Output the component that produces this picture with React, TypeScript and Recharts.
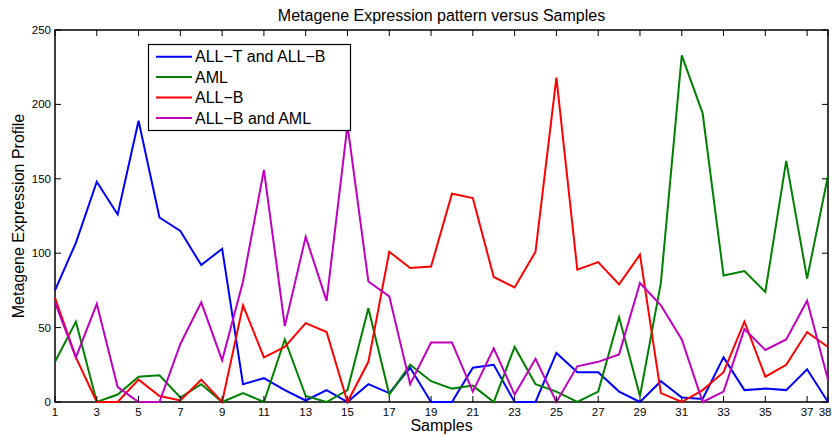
import React from 'react';
import { LineChart, Line, XAxis, YAxis, ReferenceArea } from 'recharts';

const samples = [1, 2, 3, 4, 5, 6, 7, 8, 9, 10, 11, 12, 13, 14, 15, 16, 17, 18, 19, 20, 21, 22, 23, 24, 25, 26, 27, 28, 29, 30, 31, 32, 33, 34, 35, 36, 37, 38];
const xTicks = [1, 3, 5, 7, 9, 11, 13, 15, 17, 19, 21, 23, 25, 27, 29, 31, 33, 35, 37, 38];
const yTicks = [0, 50, 100, 150, 200, 250];

const allTandAllB = [75, 107, 148, 126, 189, 124, 115, 92, 103, 12, 16, 8, 1, 8, 0, 12, 6, 23, 0, 0, 23, 25, 0, 0, 33, 20, 20, 7, 0, 14, 3, 2, 30, 8, 9, 8, 22, 0];
const aml = [27, 54, 0, 5, 17, 18, 3, 12, 0, 6, 0, 42, 4, 0, 8, 63, 5, 25, 14, 9, 11, 0, 37, 12, 7, 0, 7, 57, 4, 80, 233, 194, 85, 88, 74, 162, 83, 152];
const allB = [70, 30, 0, 0, 15, 4, 1, 15, 0, 65, 30, 37, 53, 47, 0, 27, 101, 90, 91, 140, 137, 84, 77, 101, 218, 89, 94, 79, 99, 6, 0, 8, 20, 54, 17, 25, 47, 37];
const allBandAml = [67, 30, 66, 10, 0, 0, 39, 67, 28, 81, 156, 51, 111, 68, 186, 81, 71, 12, 40, 40, 7, 36, 5, 29, 0, 24, 27, 32, 80, 65, 42, 0, 7, 49, 35, 42, 68, 15];

const seriesNames = ['ALL\u2212T and ALL\u2212B', 'AML', 'ALL\u2212B', 'ALL\u2212B and AML'];
const seriesValues = [allTandAllB, aml, allB, allBandAml];
const seriesColors = ['#0000ff', '#008000', '#ff0000', '#bf00bf'];

const data = samples.map((s, i) => {
  const row: any = { sample: s };
  seriesValues.forEach((vals, k) => {
    row['s' + k] = vals[i];
  });
  return row;
});

const W = 832;
const H = 435;
const PLOT = { left: 55, right: 828, top: 30, bottom: 402 };
const FONT = '"Liberation Sans", Arial, Helvetica, sans-serif';
const TICK_LEN = 6;

function XTick(props: any) {
  const { x, payload } = props;
  const isLast = payload.value === xTicks[xTicks.length - 1];
  return (
    <g>
      <line x1={x} x2={x} y1={PLOT.bottom} y2={PLOT.bottom - TICK_LEN} stroke="#000" strokeWidth={1} />
      <line x1={x} x2={x} y1={PLOT.top} y2={PLOT.top + TICK_LEN} stroke="#000" strokeWidth={1} />
      <text
        x={isLast ? W - 0.5 : x}
        y={416}
        textAnchor={isLast ? 'end' : 'middle'}
        fontFamily={FONT}
        fontSize={11.5}
        fill="#000"
      >
        {payload.value}
      </text>
    </g>
  );
}

function YTick(props: any) {
  const { y, payload } = props;
  return (
    <g>
      <line x1={PLOT.left} x2={PLOT.left + TICK_LEN} y1={y} y2={y} stroke="#000" strokeWidth={1} />
      <line x1={PLOT.right} x2={PLOT.right - TICK_LEN} y1={y} y2={y} stroke="#000" strokeWidth={1} />
      <text x={51} y={y + 4} textAnchor="end" fontFamily={FONT} fontSize={11.5} fill="#000">
        {payload.value}
      </text>
    </g>
  );
}

export default function App() {
  const legendTop = 44.5;
  const legendRow = 20.4;
  return (
    <div style={{ position: 'relative', width: W, height: H, background: '#fff' }}>
      <style>{'body{margin:0;background:#fff;}'}</style>
      <LineChart width={W} height={H} data={data} margin={{ top: 30, right: 4, left: 0, bottom: 0 }}>
        <XAxis
          dataKey="sample"
          type="number"
          domain={[1, 38]}
          ticks={xTicks}
          interval={0}
          tickSize={0}
          tickMargin={0}
          axisLine={false}
          tick={<XTick />}
          height={33}
        />
        <YAxis
          type="number"
          domain={[0, 250]}
          ticks={yTicks}
          interval={0}
          tickSize={0}
          tickMargin={0}
          axisLine={false}
          tick={<YTick />}
          width={55}
        />
        <ReferenceArea x1={1} x2={38} y1={0} y2={250} fill="none" fillOpacity={0} stroke="#000" strokeWidth={1.5} strokeOpacity={1} />
        {seriesNames.map((name, k) => (
          <Line
            key={name}
            name={name}
            dataKey={'s' + k}
            type="linear"
            stroke={seriesColors[k]}
            strokeWidth={2}
            dot={false}
            activeDot={false}
            isAnimationActive={false}
          />
        ))}
      </LineChart>
      <svg width={W} height={H} style={{ position: 'absolute', left: 0, top: 0, pointerEvents: 'none' }}>
        <text x={(PLOT.left + PLOT.right) / 2} y={20.5} textAnchor="middle" fontFamily={FONT} fontSize={16} fill="#000">
          Metagene Expression pattern versus Samples
        </text>
        <text x={(PLOT.left + PLOT.right) / 2} y={431} textAnchor="middle" fontFamily={FONT} fontSize={16} fill="#000">
          Samples
        </text>
        <text
          x={0}
          y={0}
          transform={`translate(23.5, ${(PLOT.top + PLOT.bottom) / 2}) rotate(-90)`}
          textAnchor="middle"
          fontFamily={FONT}
          fontSize={16}
          fill="#000"
        >
          Metagene Expression Profile
        </text>
        <rect x={148.5} y={legendTop} width={202} height={86} fill="#fff" stroke="#000" strokeWidth={1.2} />
        {seriesNames.map((name, k) => {
          const cy = 56.7 + k * legendRow;
          return (
            <g key={name}>
              <line x1={156} x2={192} y1={cy} y2={cy} stroke={seriesColors[k]} strokeWidth={2} />
              <text x={195} y={cy + 5.7} fontFamily={FONT} fontSize={16} fill="#000">
                {name}
              </text>
            </g>
          );
        })}
      </svg>
    </div>
  );
}
